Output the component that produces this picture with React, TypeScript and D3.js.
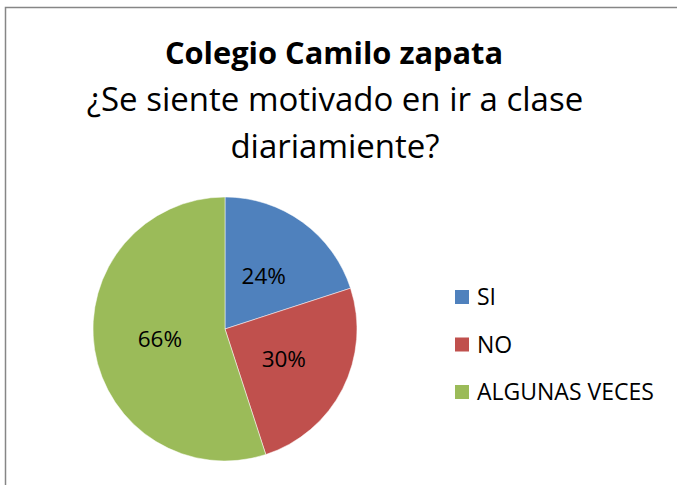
import React from 'react';
import * as d3 from 'd3';

// survey answers
const categories = ["SI", "NO", "ALGUNAS VECES"];
const values = [24, 30, 66];
const colors = ["#4F81BD", "#C0504D", "#9BBB59"];

const titleMain = "Colegio Camilo zapata";
const titleSub = ["¿Se siente motivado en ir a clase", "diariamiente?"];

const W = 677;
const H = 485;
const FONT = "'Open Sans', Lato, sans-serif";

const App: React.FC = () => {
  const cx = 225;
  const cy = 329;
  const radius = 132;

  const pie = d3.pie<number>().sort(null).value(d => d);
  const arcs = pie(values);
  const arc = d3.arc<d3.PieArcDatum<number>>().innerRadius(0).outerRadius(radius);
  const labelArc = d3.arc<d3.PieArcDatum<number>>().innerRadius(radius / 2).outerRadius(radius / 2);

  const legendY = d3.scalePoint<string>().domain(categories).range([297, 392]);

  return (
    <div style={{ position: 'fixed', left: 0, top: 0, background: '#fff' }}>
      <svg width={W} height={H} style={{ display: 'block' }}>
        <rect x={0} y={0} width={W} height={H} fill="#fff" />
        {/* chart border, only top and left visible in the crop */}
        <path d={`M5.5,${H} L5.5,7.5 L${W},7.5`} fill="none" stroke="#868686" strokeWidth={1.5} />

        <text x={334} y={64} textAnchor="middle" fontFamily={FONT} fontWeight="bold" fontSize={30.8} fill="#000">
          {titleMain}
        </text>
        {titleSub.map((t, i) => (
          <text key={i} x={335} y={111 + i * 47} textAnchor="middle" fontFamily={FONT} fontSize={33} fill="#000">
            {t}
          </text>
        ))}

        <g transform={`translate(${cx},${cy})`}>
          {arcs.map((a, i) => (
            <path key={i} d={arc(a) || ''} fill={colors[i]} stroke="#fff" strokeWidth={0.5} />
          ))}
          {arcs.map((a, i) => {
            const [x, y] = labelArc.centroid(a);
            return (
              <text key={i} x={x} y={y} dy="0.36em" textAnchor="middle" fontFamily={FONT} fontSize={22.5} fill="#000">
                {values[i]}%
              </text>
            );
          })}
        </g>

        {categories.map((c, i) => {
          const y = legendY(c) || 0;
          return (
            <g key={c}>
              <rect x={455} y={y - 7} width={14} height={14} fill={colors[i]} />
              <text x={477} y={y} dy="0.36em" fontFamily={FONT} fontSize={23} fill="#000">
                {c}
              </text>
            </g>
          );
        })}
      </svg>
    </div>
  );
};

export default App;
